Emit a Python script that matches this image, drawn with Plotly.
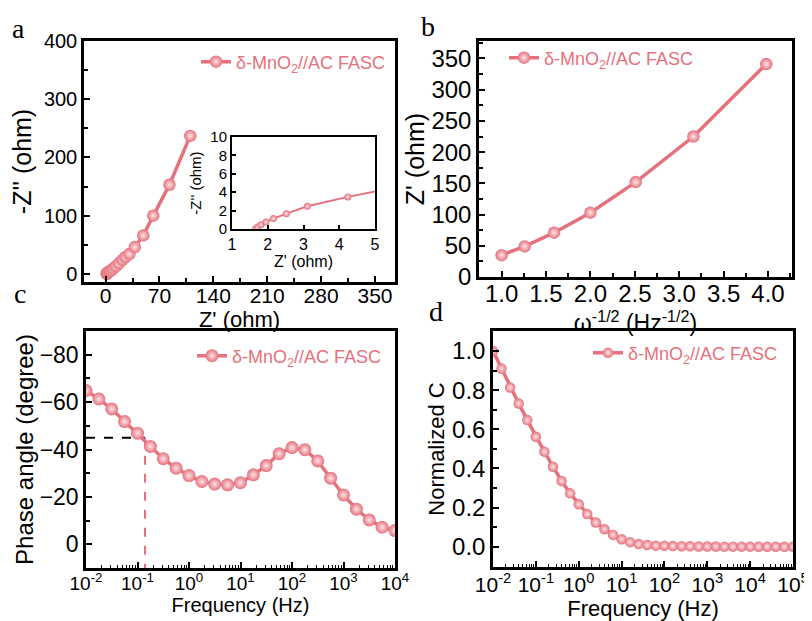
import plotly.graph_objects as go

# panel a: Nyquist plot (ohm)
a_zre = [1.66, 1.72, 1.81, 1.95, 2.16, 2.52, 3.11, 4.24, 5.6, 7.5, 10, 13.5, 17.5, 22, 26, 31, 38, 49, 62, 83, 110]
a_zim = [0.02, 0.22, 0.47, 0.76, 1.13, 1.67, 2.47, 3.49, 4.4, 6, 9, 13, 18, 24, 29, 34, 46, 66, 100, 153, 237]

# panel b: Z' vs omega^-1/2
b_w = [1.0, 1.26, 1.59, 2.0, 2.51, 3.16, 3.98]
b_z = [35, 49, 71, 103, 152, 225, 341]

# panel c: Bode phase
c_freq = [0.01, 0.0178, 0.0316, 0.0562, 0.1, 0.178, 0.316, 0.562, 1, 1.78, 3.16, 5.62,
          10, 17.8, 31.6, 56.2, 100, 178, 316, 562, 1000, 1780, 3160, 5620, 10000]
c_phase = [-64.9, -61.3, -57.1, -51.8, -46.9, -41.3, -36.1, -32.1, -29.0, -26.5, -25.4, -25.1,
           -26.0, -29.3, -33.2, -38.2, -40.8, -39.9, -35.2, -27.9, -20.8, -14.8, -10.3, -7.2, -5.8]
c_f45 = 0.14      # frequency at -45 degree
c_p45 = -45
c_ticks = [0.01, 0.1, 1, 10, 100, 1000, 10000]
c_ticktext = ["10<sup>-2</sup>", "10<sup>-1</sup>", "10<sup>0</sup>", "10<sup>1</sup>",
              "10<sup>2</sup>", "10<sup>3</sup>", "10<sup>4</sup>"]

# panel d: normalized capacitance
d_freq = [0.01, 0.0158, 0.0251, 0.0398, 0.0631, 0.1, 0.158, 0.251, 0.398, 0.631,
          1, 1.58, 2.51, 3.98, 6.31, 10, 15.8, 25.1, 39.8, 63.1,
          100, 158, 251, 398, 631, 1000, 1580, 2510, 3980, 6310,
          10000, 15800, 25100, 39800, 63100, 100000]
d_c = [1.0, 0.91, 0.813, 0.732, 0.647, 0.562, 0.486, 0.409, 0.336, 0.273,
       0.217, 0.168, 0.124, 0.09, 0.061, 0.039, 0.024, 0.014, 0.009, 0.006,
       0.005, 0.004, 0.003, 0.003, 0.002, 0.002, 0.002, 0.001, 0.001, 0.001,
       0.001, 0.0005, 0.0005, 0.0003, 0.0002, 0.0001]
d_ticks = [0.01, 0.1, 1, 10, 100, 1000, 10000, 100000]
d_ticktext = c_ticktext + ["10<sup>5</sup>"]

NAME = "δ-MnO<sub>2</sub>//AC FASC"
PINK = "#E6717C"
FONT = "Arial, Liberation Sans, sans-serif"
OFF = 8                      # page body margin
W, H = 812 - OFF, 621 - OFF


def mk(size):
    return dict(size=size, color=PINK, gradient=dict(type="radial", color="#FBE4E7"),
                line=dict(width=0))


def ax(size=20, **kw):
    d = dict(showline=True, linecolor="black", linewidth=2.5, mirror=True,
             ticks="inside", ticklen=6, tickwidth=2, tickcolor="black",
             showgrid=False, zeroline=False, automargin=False, tickangle=0,
             tickfont=dict(size=size, color="black", family=FONT))
    d.update(kw)
    return d


def fx(p):
    return (p - OFF) / W


def fy(p):
    return 1 - (p - OFF) / H


def px_x(a, b):
    return [fx(a), fx(b)]


def px_y(top, bot):
    return [fy(bot), fy(top)]


fig = go.Figure()

fig.add_trace(go.Scatter(x=a_zre, y=a_zim, mode="lines+markers", name=NAME,
                         line=dict(color=PINK, width=3.5), marker=mk(12.5),
                         xaxis="x", yaxis="y", legend="legend"))
fig.add_trace(go.Scatter(x=a_zre, y=a_zim, mode="lines+markers", showlegend=False,
                         line=dict(color=PINK, width=2), marker=mk(7),
                         xaxis="x5", yaxis="y5"))
fig.add_trace(go.Scatter(x=b_w, y=b_z, mode="lines+markers", name=NAME,
                         line=dict(color=PINK, width=3.5), marker=mk(12.5),
                         xaxis="x2", yaxis="y2", legend="legend2"))
fig.add_trace(go.Scatter(x=[0.01, c_f45], y=[c_p45, c_p45], mode="lines", showlegend=False,
                         line=dict(color="black", width=2, dash="dash"),
                         xaxis="x3", yaxis="y3"))
fig.add_trace(go.Scatter(x=[c_f45, c_f45], y=[c_p45, 10], mode="lines", showlegend=False,
                         line=dict(color=PINK, width=2, dash="dash"),
                         xaxis="x3", yaxis="y3"))
fig.add_trace(go.Scatter(x=c_freq, y=c_phase, mode="lines+markers", name=NAME,
                         line=dict(color=PINK, width=3.5), marker=mk(13),
                         xaxis="x3", yaxis="y3", legend="legend3"))
fig.add_trace(go.Scatter(x=d_freq, y=d_c, mode="lines+markers", name=NAME,
                         line=dict(color=PINK, width=3.5), marker=mk(10.5),
                         xaxis="x4", yaxis="y4", legend="legend4"))

tf = dict(family=FONT, color="black")
minor_lin = dict(ticks="inside", ticklen=4, tickwidth=1.5, tickcolor="black")
minor_log = dict(ticks="inside", ticklen=3, tickwidth=1.2, tickcolor="black", dtick="D1")

fig.update_layout(
    width=W, height=H, margin=dict(l=0, r=0, t=0, b=0),
    paper_bgcolor="white", plot_bgcolor="white",
    font=dict(family=FONT, color="black"),
    # a
    xaxis=ax(21, domain=px_x(84, 395), anchor="y", range=[-28, 376], dtick=70,
             ticklabelstandoff=-7, minor=dict(dtick=35, **minor_lin),
             title=dict(text="Z' (ohm)", font=dict(size=22, **tf), standoff=0)),
    yaxis=ax(20, domain=px_y(41, 282), anchor="x", range=[-14, 400], dtick=100,
             minor=dict(dtick=50, **minor_lin),
             title=dict(text="-Z'' (ohm)", font=dict(size=25, **tf), standoff=8)),
    # b
    xaxis2=ax(24, domain=px_x(479, 792), anchor="y2", range=[0.745, 4.27], dtick=0.5,
              tickformat=".1f", ticklabelstandoff=-7, minor=dict(dtick=0.25, **minor_lin),
              title=dict(text="ω<sup>-1/2</sup> (Hz<sup>-1/2</sup>)", font=dict(size=23, **tf),
                         standoff=0)),
    yaxis2=ax(24, domain=px_y(41, 277), anchor="x2", range=[0, 378], dtick=50,
              minor=dict(dtick=25, **minor_lin),
              title=dict(text="Z' (ohm)", font=dict(size=25, **tf), standoff=0)),
    # c
    xaxis3=ax(19, domain=px_x(86, 395), anchor="y3", type="log", range=[-2, 4],
              tickvals=c_ticks, ticktext=c_ticktext, minor=minor_log, ticklabelstandoff=-4,
              title=dict(text="Frequency (Hz)", font=dict(size=20, **tf), standoff=3)),
    yaxis3=ax(23, domain=px_y(331, 568), anchor="x3", range=[10, -90], dtick=20,
              minor=dict(dtick=10, **minor_lin),
              title=dict(text="Phase angle (degree)", font=dict(size=24, **tf), standoff=0)),
    # d
    xaxis4=ax(21, domain=px_x(493, 793), anchor="y4", type="log", range=[-2, 5],
              tickvals=d_ticks, ticktext=d_ticktext, minor=minor_log, ticklabelstandoff=-3,
              title=dict(text="Frequency (Hz)", font=dict(size=22, **tf), standoff=4)),
    yaxis4=ax(24, domain=px_y(331, 567), anchor="x4", range=[-0.103, 1.102], dtick=0.2,
              tickformat=".1f", minor=dict(dtick=0.1, **minor_lin),
              title=dict(text="Normalized C", font=dict(size=22, **tf), standoff=2)),
    # inset
    xaxis5=ax(16, domain=px_x(232, 375), anchor="y5", range=[1, 5], dtick=1, linewidth=2,
              ticklen=4,
              title=dict(text="Z' (ohm)", font=dict(size=16, **tf), standoff=0)),
    yaxis5=ax(15, domain=px_y(137, 229), anchor="x5", range=[0, 10], dtick=2, linewidth=2,
              ticklen=4,
              title=dict(text="-Z'' (ohm)", font=dict(size=15, **tf), standoff=5)),
)

leg = dict(bgcolor="rgba(0,0,0,0)", font=dict(size=18, color=PINK, family=FONT),
           xanchor="left", yanchor="middle", itemwidth=30)
fig.update_layout(
    legend=dict(x=fx(196), y=fy(62), **leg),
    legend2=dict(x=fx(504), y=fy(58), **leg),
    legend3=dict(x=fx(192), y=fy(356), **leg),
    legend4=dict(x=fx(588), y=fy(353), **leg),
)

serif = dict(family="Liberation Serif, Times New Roman, serif", size=28, color="black")
for txt, x, y in [("a", 18, 28), ("b", 428, 27), ("c", 20, 293), ("d", 436, 311)]:
    fig.add_annotation(text=txt, x=fx(x), y=fy(y), xref="paper", yref="paper",
                       showarrow=False, font=serif, xanchor="center", yanchor="middle")

fig.write_html("out.html")
